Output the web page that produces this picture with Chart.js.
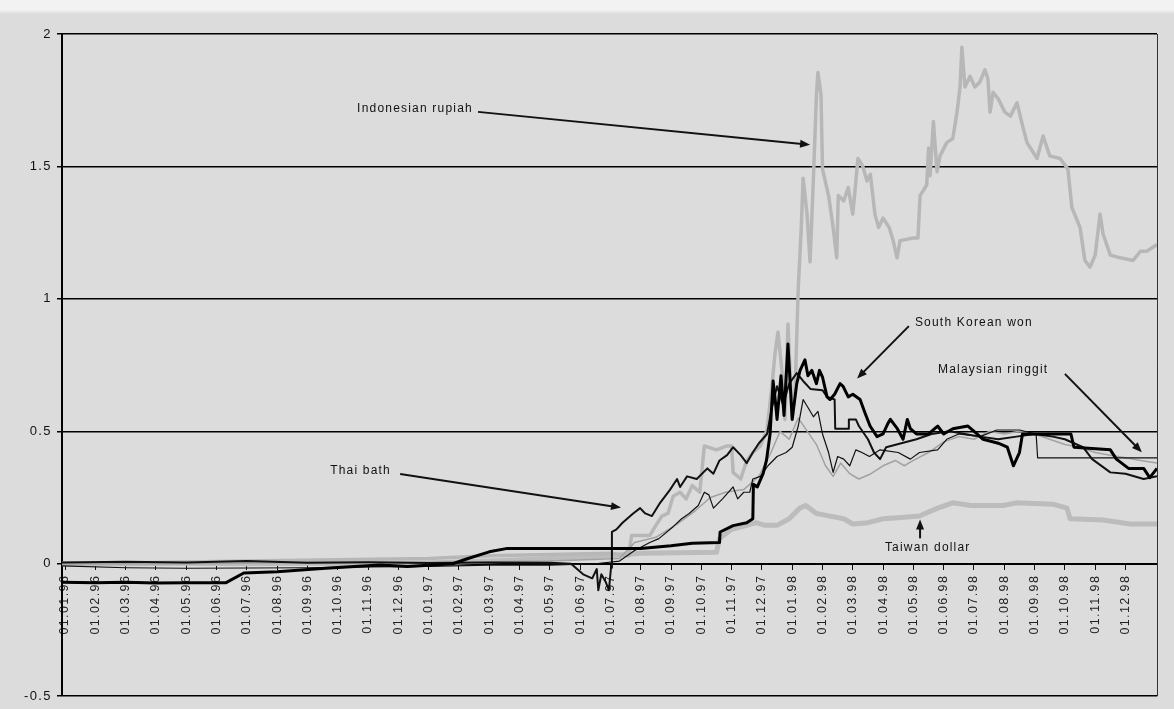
<!DOCTYPE html>
<html>
<head>
<meta charset="utf-8">
<script src="https://cdn.jsdelivr.net/npm/chart.js@4.4.1/dist/chart.umd.min.js"></script>
<style>
  html, body { margin: 0; padding: 0; }
  body { width: 1174px; height: 709px; background: linear-gradient(#f2f2f2 0, #f2f2f2 10px, #dcdcdc 14px); }
  #chart { display: block; }
</style>
</head>
<body>
<canvas id="chart" width="1174" height="709"></canvas>
<script>
// x = months since 01.01.96 (fractional), y = cumulative change
const monthLabels = [
  '01.01.96','01.02.96','01.03.96','01.04.96','01.05.96','01.06.96','01.07.96','01.08.96','01.09.96','01.10.96','01.11.96','01.12.96',
  '01.01.97','01.02.97','01.03.97','01.04.97','01.05.97','01.06.97','01.07.97','01.08.97','01.09.97','01.10.97','01.11.97','01.12.97',
  '01.01.98','01.02.98','01.03.98','01.04.98','01.05.98','01.06.98','01.07.98','01.08.98','01.09.98','01.10.98','01.11.98','01.12.98'
];

const koreanWon = [
  [-0.1,-0.07],[1,-0.072],[2,-0.07],[3,-0.073],[4,-0.072],[5.3,-0.072],[5.9,-0.035],[7,-0.03],[8.6,-0.017],[10.4,-0.005],
  [11.3,-0.01],[12.8,0],[13.3,0.02],[14,0.045],[14.6,0.058],[16,0.058],[17,0.058],[18.6,0.058],[19,0.058],[20,0.068],
  [20.7,0.077],[21.6,0.08],[21.62,0.12],[22.05,0.144],[22.5,0.155],[22.7,0.17],[22.72,0.3],[22.85,0.29],[23.04,0.34],[23.15,0.39],
  [23.27,0.49],[23.37,0.69],[23.43,0.63],[23.5,0.545],[23.63,0.71],[23.73,0.56],[23.86,0.83],[24,0.545],[24.15,0.68],[24.26,0.73],
  [24.42,0.77],[24.52,0.71],[24.65,0.73],[24.8,0.68],[24.9,0.73],[25,0.705],[25.15,0.63],[25.25,0.62],[25.4,0.64],[25.58,0.68],
  [25.68,0.67],[25.85,0.63],[26,0.64],[26.24,0.62],[26.4,0.57],[26.57,0.52],[26.8,0.48],[27,0.49],[27.16,0.53],[27.24,0.545],
  [27.47,0.51],[27.66,0.47],[27.8,0.545],[27.9,0.51],[28.1,0.49],[28.5,0.49],[28.8,0.52],[29,0.49],[29.3,0.51],[29.8,0.52],
  [30.1,0.49],[30.3,0.47],[30.8,0.455],[31.1,0.44],[31.3,0.37],[31.5,0.42],[31.6,0.49],[32,0.49],[32.5,0.49],[33.2,0.49],
  [33.3,0.44],[34.5,0.43],[34.7,0.395],[35.1,0.36],[35.6,0.36],[35.8,0.325],[36.04,0.36]
];

const thaiBaht = [
  [-0.1,0.005],[2,0.008],[4,0.005],[6,0.01],[8,0.004],[10,0.006],[12,0.003],[14,0.005],[16,0.004],[16.7,0],
  [17.1,-0.04],[17.4,-0.055],[17.55,-0.02],[17.6,-0.1],[17.7,-0.04],[17.85,-0.07],[17.95,-0.1],[18.02,-0.015],[18.05,0.12],[18.2,0.13],
  [18.4,0.155],[18.75,0.19],[18.98,0.21],[19.15,0.19],[19.37,0.18],[19.64,0.23],[19.97,0.28],[20.2,0.32],[20.3,0.29],[20.53,0.33],
  [20.85,0.32],[21.2,0.36],[21.4,0.34],[21.6,0.39],[21.85,0.41],[22.05,0.44],[22.3,0.41],[22.5,0.38],[22.7,0.42],[22.9,0.455],
  [23.17,0.49],[23.33,0.59],[23.5,0.67],[23.7,0.6],[23.9,0.68],[24.15,0.72],[24.36,0.69],[24.6,0.66],[25,0.655],[25.15,0.63],
  [25.4,0.62],[25.42,0.51],[25.85,0.51],[25.87,0.545],[26.1,0.545],[26.2,0.52],[26.5,0.47],[26.7,0.42],[26.9,0.395],[27.1,0.44],
  [27.6,0.455],[28.1,0.47],[28.6,0.49],[29.2,0.5],[29.7,0.49],[30.2,0.48],[30.8,0.47],[31.4,0.48],[32,0.49],[32.6,0.48],
  [33,0.47],[33.6,0.44],[33.9,0.395],[34.5,0.345],[35,0.34],[35.6,0.32],[36.04,0.33]
];

const malaysianRinggit = [
  [-0.1,-0.008],[2,-0.015],[4,-0.017],[6,-0.016],[8,-0.015],[10,-0.012],[12,-0.01],[14,-0.005],[16,-0.005],[17.5,0],
  [18.3,0.01],[18.8,0.05],[19.3,0.08],[19.6,0.095],[20.07,0.14],[20.35,0.17],[20.6,0.19],[20.9,0.22],[21.1,0.27],[21.25,0.26],
  [21.4,0.21],[21.7,0.245],[22.05,0.29],[22.2,0.245],[22.4,0.27],[22.6,0.27],[22.7,0.32],[22.95,0.33],[23.2,0.37],[23.5,0.405],
  [23.8,0.42],[24,0.44],[24.2,0.52],[24.36,0.62],[24.52,0.59],[24.7,0.555],[24.85,0.575],[25,0.49],[25.2,0.42],[25.35,0.345],
  [25.5,0.405],[25.7,0.395],[25.9,0.37],[26.1,0.43],[26.3,0.42],[26.55,0.405],[26.9,0.43],[27.5,0.42],[27.9,0.395],[28.2,0.42],
  [28.8,0.43],[29.1,0.47],[29.5,0.49],[30.2,0.48],[30.75,0.505],[31.5,0.505],[32.05,0.49],[32.1,0.4],[36.04,0.4]
];

const otherGray = [
  [-0.1,0],[4,0],[8,0.005],[12,0.005],[16,0.01],[18.3,0.02],[18.8,0.08],[19.5,0.1],[20.2,0.15],[20.8,0.2],
  [21.3,0.25],[21.8,0.27],[22.4,0.28],[22.9,0.33],[23.3,0.42],[23.6,0.5],[23.9,0.47],[24.2,0.55],[24.5,0.5],[24.8,0.45],
  [25.1,0.37],[25.35,0.33],[25.6,0.38],[25.9,0.34],[26.2,0.32],[26.6,0.34],[27,0.37],[27.4,0.39],[27.7,0.37],[28,0.39],
  [28.5,0.42],[29,0.46],[29.5,0.48],[30,0.47],[30.5,0.5],[31,0.49],[31.5,0.5],[32,0.49],[32.5,0.47],[33,0.45],
  [33.5,0.44],[34,0.42],[34.5,0.41],[35,0.4],[35.5,0.39],[36.04,0.38]
];

const indonesianRupiah = [
  [-0.1,0],[3,0.005],[6,0.01],[9,0.015],[12,0.02],[14,0.03],[16,0.035],[18,0.04],[18.6,0.03],[18.7,0.107],
  [19.3,0.107],[19.5,0.145],[19.7,0.18],[19.9,0.19],[20.07,0.255],[20.3,0.27],[20.5,0.245],[20.7,0.295],[20.95,0.27],[21.1,0.445],
  [21.5,0.43],[21.85,0.445],[22,0.445],[22.05,0.345],[22.3,0.32],[22.5,0.39],[22.7,0.42],[22.95,0.445],[23.17,0.505],[23.33,0.67],
  [23.43,0.79],[23.53,0.875],[23.66,0.73],[23.76,0.545],[23.86,0.905],[24,0.545],[24.1,0.67],[24.2,1.04],[24.3,1.27],[24.36,1.455],
  [24.49,1.32],[24.59,1.14],[24.7,1.455],[24.8,1.77],[24.85,1.855],[24.95,1.77],[25,1.49],[25.2,1.39],[25.35,1.27],[25.47,1.155],
  [25.52,1.39],[25.7,1.37],[25.85,1.42],[26,1.32],[26.17,1.53],[26.33,1.5],[26.47,1.445],[26.58,1.47],[26.73,1.32],[26.85,1.27],
  [27,1.305],[27.2,1.27],[27.33,1.22],[27.46,1.155],[27.56,1.22],[27.99,1.23],[28.15,1.23],[28.22,1.39],[28.44,1.43],[28.5,1.57],
  [28.55,1.465],[28.66,1.67],[28.78,1.48],[28.88,1.54],[29.1,1.59],[29.3,1.605],[29.44,1.705],[29.54,1.8],[29.6,1.95],[29.7,1.8],
  [29.87,1.84],[30.03,1.8],[30.2,1.82],[30.36,1.865],[30.46,1.83],[30.53,1.705],[30.63,1.78],[30.8,1.755],[31.02,1.705],[31.2,1.69],
  [31.42,1.74],[31.6,1.655],[31.75,1.59],[32.08,1.53],[32.28,1.615],[32.5,1.54],[32.84,1.53],[33.1,1.49],[33.23,1.345],[33.5,1.27],
  [33.66,1.145],[33.83,1.12],[34,1.165],[34.16,1.32],[34.26,1.245],[34.5,1.165],[34.83,1.155],[35.25,1.145],[35.5,1.18],[35.7,1.18],
  [36.04,1.205]
];

const taiwanDollar = [
  [-0.1,0],[2,0],[4,0.002],[6,0],[8,0.002],[10,0],[12,0.003],[14,0.01],[16,0.02],[18,0.03],
  [19,0.04],[21.5,0.043],[21.6,0.095],[22,0.13],[22.5,0.145],[22.8,0.155],[23.1,0.145],[23.5,0.145],[23.9,0.17],[24.25,0.21],
  [24.45,0.22],[24.8,0.19],[25.25,0.18],[25.7,0.17],[26,0.15],[26.5,0.155],[27,0.17],[27.6,0.175],[28.2,0.18],[28.8,0.21],
  [29.3,0.23],[29.9,0.22],[30.96,0.22],[31.4,0.23],[32.6,0.225],[33.07,0.21],[33.17,0.17],[34.26,0.165],[35.15,0.15],[36.04,0.15]
];

// labels with arrows, placed in data units
const notes = [
  { text: 'Indonesian rupiah', at: [9.64, 1.717], from: [13.63, 1.706], to: [24.59, 1.582] },
  { text: 'South Korean won', at: [28.05, 0.912], from: [27.85, 0.897], to: [26.14, 0.699] },
  { text: 'Malaysian ringgit', at: [28.81, 0.732], from: [33.0, 0.717], to: [35.54, 0.421] },
  { text: 'Thai bath', at: [8.75, 0.35], from: [11.06, 0.339], to: [18.35, 0.212] },
  { text: 'Taiwan dollar', at: [27.06, 0.062], from: [28.22, 0.096], to: [28.22, 0.167] }
];

const fontFamily = "'Liberation Sans', Arial, sans-serif";
Chart.defaults.font.family = fontFamily;

const toPoints = arr => arr.map(([x, y]) => ({ x, y }));

const spacingPlugin = {
  id: 'spacing',
  beforeDraw(chart) {
    chart.ctx.letterSpacing = '1.4px';
  }
};

const notesPlugin = {
  id: 'notes',
  afterDatasetsDraw(chart) {
    const { ctx, scales: { x, y }, chartArea } = chart;
    ctx.save();
    // right frame line
    ctx.strokeStyle = '#333';
    ctx.lineWidth = 1;
    ctx.beginPath();
    ctx.moveTo(chartArea.right + 0.5, chartArea.top);
    ctx.lineTo(chartArea.right + 0.5, chartArea.bottom);
    ctx.stroke();

    ctx.fillStyle = '#111';
    ctx.strokeStyle = '#111';
    ctx.font = '12px ' + fontFamily;
    ctx.letterSpacing = '1.2px';
    ctx.textBaseline = 'middle';
    ctx.textAlign = 'left';
    notes.forEach(n => {
      ctx.fillText(n.text, x.getPixelForValue(n.at[0]), y.getPixelForValue(n.at[1]));
      const x1 = x.getPixelForValue(n.from[0]), y1 = y.getPixelForValue(n.from[1]);
      const x2 = x.getPixelForValue(n.to[0]), y2 = y.getPixelForValue(n.to[1]);
      const ang = Math.atan2(y2 - y1, x2 - x1);
      const head = 10;
      ctx.lineWidth = 2;
      ctx.beginPath();
      ctx.moveTo(x1, y1);
      ctx.lineTo(x2 - Math.cos(ang) * head * 0.8, y2 - Math.sin(ang) * head * 0.8);
      ctx.stroke();
      ctx.beginPath();
      ctx.moveTo(x2, y2);
      ctx.lineTo(x2 - head * Math.cos(ang) + 4 * Math.sin(ang), y2 - head * Math.sin(ang) - 4 * Math.cos(ang));
      ctx.lineTo(x2 - head * Math.cos(ang) - 4 * Math.sin(ang), y2 - head * Math.sin(ang) + 4 * Math.cos(ang));
      ctx.closePath();
      ctx.fill();
    });
    ctx.restore();
  }
};

const chart = new Chart(document.getElementById('chart'), {
  type: 'line',
  data: {
    datasets: [
      { label: 'South Korean won', data: toPoints(koreanWon), borderColor: '#000', borderWidth: 3 },
      { label: 'Thai bath', data: toPoints(thaiBaht), borderColor: '#111', borderWidth: 2 },
      { label: 'Malaysian ringgit', data: toPoints(malaysianRinggit), borderColor: '#111', borderWidth: 1.2 },
      { label: 'Other', data: toPoints(otherGray), borderColor: '#a2a2a2', borderWidth: 1.5 },
      { label: 'Indonesian rupiah', data: toPoints(indonesianRupiah), borderColor: '#b7b7b7', borderWidth: 3.5 },
      { label: 'Taiwan dollar', data: toPoints(taiwanDollar), borderColor: '#bcbcbc', borderWidth: 5 }
    ]
  },
  options: {
    responsive: false,
    animation: false,
    devicePixelRatio: 1,
    layout: { padding: { left: 0, right: 17, top: 34, bottom: 7 } },
    elements: {
      point: { radius: 0 },
      line: { tension: 0, borderJoinStyle: 'round', fill: false }
    },
    plugins: {
      legend: { display: false },
      tooltip: { enabled: false }
    },
    scales: {
      x: {
        type: 'linear',
        min: -0.1,
        max: 36.04,
        position: { y: 0 },
        afterBuildTicks: s => { s.ticks = monthLabels.map((_, i) => ({ value: i })); },
        ticks: {
          autoSkip: false,
          minRotation: 90,
          maxRotation: 90,
          padding: 6,
          color: '#222',
          font: { size: 12.5 },
          callback: v => monthLabels[v]
        },
        grid: { drawOnChartArea: false, tickLength: 5, color: '#111', lineWidth: 1 },
        border: { color: '#000', width: 2 }
      },
      y: {
        min: -0.5,
        max: 2,
        afterFit: s => { s.width = 62; },
        ticks: {
          stepSize: 0.5,
          padding: 5,
          color: '#111',
          font: { size: 13 },
          callback: v => v.toString()
        },
        grid: { color: '#000', lineWidth: 1.5, tickLength: 5 },
        border: { color: '#000', width: 2 }
      }
    }
  },
  plugins: [spacingPlugin, notesPlugin]
});
</script>
</body>
</html>
